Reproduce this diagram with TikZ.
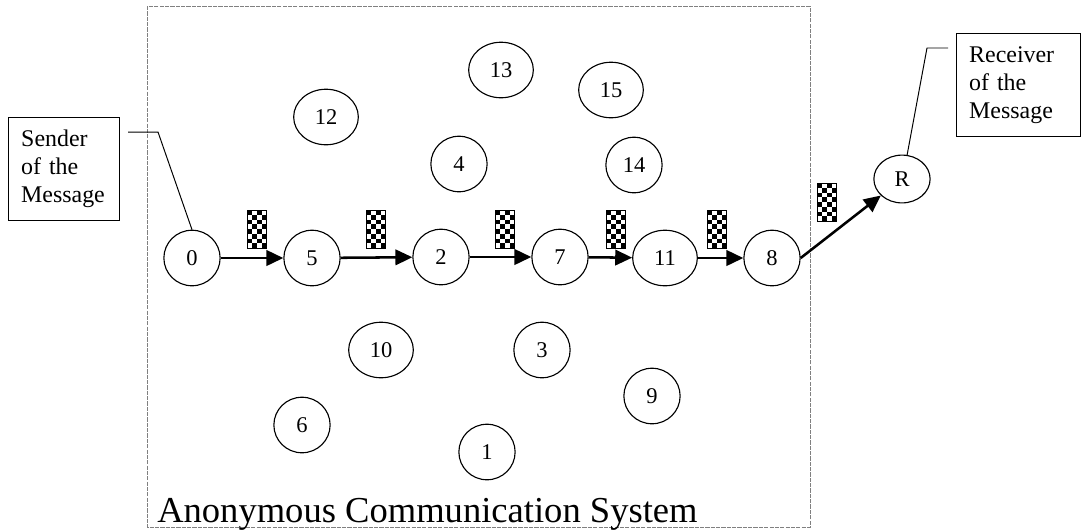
\documentclass[tikz,border=0pt]{standalone}
\usepackage{fontspec}
\setmainfont{Liberation Serif}
\usepackage{tikz}
\usetikzlibrary{positioning}
\usetikzlibrary{arrows.meta}
\usetikzlibrary{shapes.geometric}
\usetikzlibrary{calc}

\tikzset{
  peer/.style={ellipse, draw, line width=0.8pt, minimum width=40pt, minimum height=39.5pt, inner sep=0pt, font=\fontsize{16}{18}\selectfont},
  wide peer/.style={peer, minimum width=46pt},
  callbox/.style={draw, line width=0.8pt, anchor=north west, minimum height=73pt, inner xsep=9pt, align=left, font=\fontsize{17}{20}\selectfont},
  packet/.style={draw, line width=0.6pt, minimum width=13.5pt, minimum height=27pt, inner sep=0pt,
    path picture={
      \foreach \j in {0,...,7}{
        \foreach \k in {0,2}{
          \fill ($(path picture bounding box.north west)+({(\k+mod(\j,2))*3.375pt},{-\j*3.375pt})$) rectangle ++(3.375pt,-3.375pt);
        }
      }
    }},
  hop/.style={-{Triangle[length=12pt,width=11pt]}, line width=1.8pt},
  lead/.style={line width=0.7pt}
}

\begin{document}
\begin{tikzpicture}[x=0.025cm, y=-0.025cm]
    \useasboundingbox (0,0) rectangle (1081,529);
    % system %
    \draw[gray, line width=0.6pt, dash pattern=on 3pt off 0.8pt] (147,6) rectangle (810,527);
    \node[anchor=base west, inner sep=0pt, font=\fontsize{26}{30}\selectfont] (acs) at (157,522) {Anonymous Communication System};
    % nodes %
    \node[peer] (n0) at (192,258) {0};
    \node[peer] (n5) at (312,258) {5};
    \node[peer] (n2) at (441,257) {2};
    \node[peer] (n7) at (560,257) {7};
    \node[wide peer] (n11) at (665,258) {11};
    \node[peer] (n8) at (772,258) {8};
    \node[peer, minimum height=34pt] (nR) at (902,179) {R};
    \node[wide peer] (n13) at (501,70) {13};
    \node[wide peer] (n15) at (611,90) {15};
    \node[wide peer] (n12) at (326,117) {12};
    \node[peer] (n4) at (459,164) {4};
    \node[peer] (n14) at (634,165) {14};
    \node[wide peer] (n10) at (381,350) {10};
    \node[peer] (n3) at (542,350) {3};
    \node[peer] (n9) at (652,396) {9};
    \node[peer] (n6) at (302,425) {6};
    \node[peer] (n1) at (487,452) {1};
    % packets %
    \node[packet] (pk1) at (257,229) {};
    \node[packet] (pk2) at (376,229) {};
    \node[packet] (pk3) at (505,229) {};
    \node[packet] (pk4) at (616,229) {};
    \node[packet] (pk5) at (717,229) {};
    \node[packet] (pk6) at (827,202) {};
    % labels %
    \node[callbox, minimum width=79pt, text width=61pt] (send) at (8,117) {Sender\\of the\\Message};
    \node[callbox, minimum width=88pt, text width=70pt, inner xsep=8.5pt] (recv) at (956,33) {Receiver\\of the\\Message};
    \coordinate (sk) at (128,132);
    \coordinate (sb) at (158,132);
    \coordinate (rk) at (948,48);
    \coordinate (rb) at (927,48);
    % edges %
    \draw[hop] (n0) -- (n5);
    \draw[hop] (n5) -- (n2);
    \draw[hop] (n2) -- (n7);
    \draw[hop] (n7) -- (n11);
    \draw[hop] (n11) -- (n8);
    \draw[hop] (n8.east) -- (nR);
    \draw[lead] (sk) -- (sb) -- (n0.north);
    \draw[lead] (rk) -- (rb) -- (nR.78);
\end{tikzpicture}
\end{document}
